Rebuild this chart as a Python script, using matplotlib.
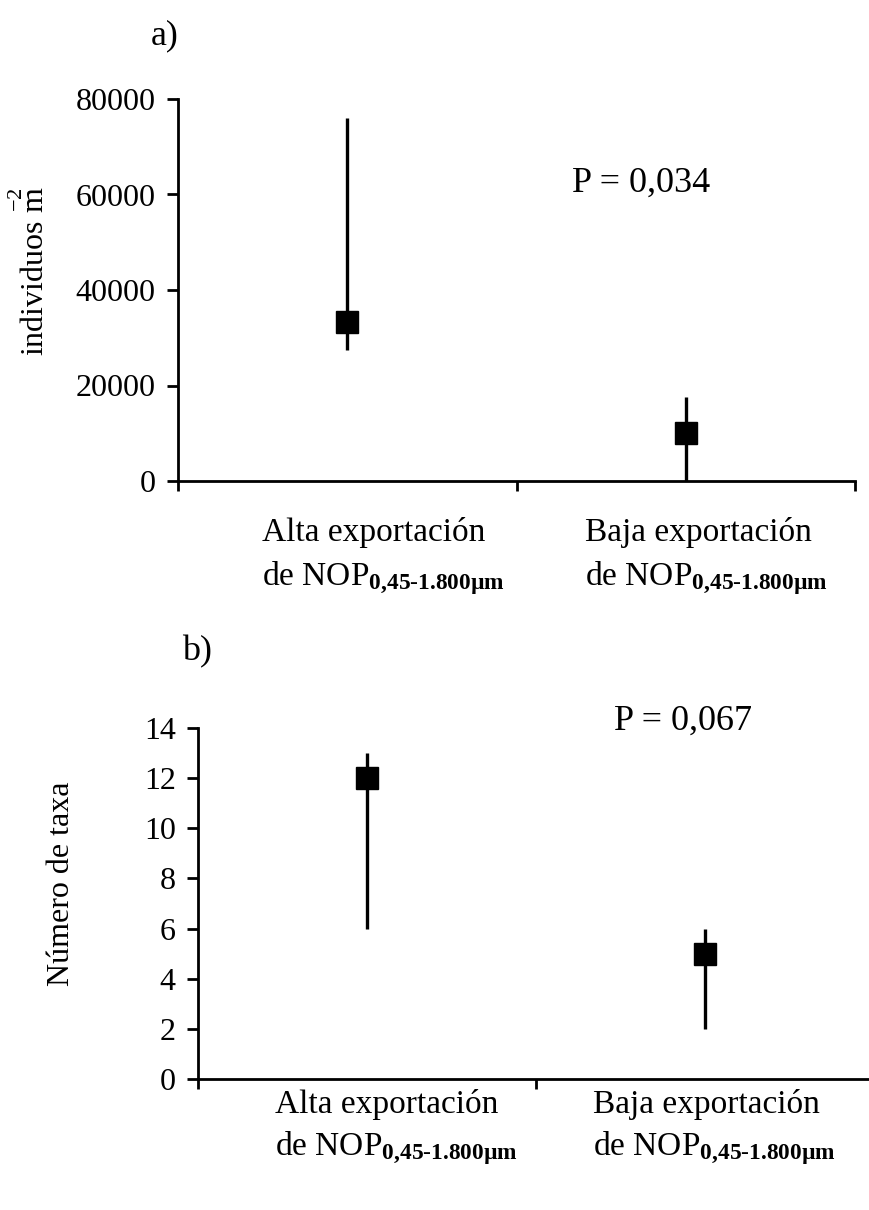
import matplotlib
matplotlib.use("Agg")
import matplotlib.pyplot as plt

plt.rcParams['font.family'] = ['Liberation Serif', 'DejaVu Serif']
plt.rcParams['mathtext.fontset'] = 'custom'
plt.rcParams['mathtext.rm'] = 'Liberation Serif'
plt.rcParams['mathtext.it'] = 'Liberation Serif:italic'
plt.rcParams['mathtext.bf'] = 'Liberation Serif:bold'

# ---- data ----
categories = ["Alta exportación", "Baja exportación"]
ind_median = [33400, 10000]
ind_min = [27400, 0]
ind_max = [76000, 17600]
ind_ticks = [0, 20000, 40000, 60000, 80000]

taxa_median = [12, 5]
taxa_min = [6, 2]
taxa_max = [13, 6]
taxa_ticks = [0, 2, 4, 6, 8, 10, 12, 14]

p_a = "P = 0,034"
p_b = "P = 0,067"

W, H = 869, 1210
fig = plt.figure(figsize=(W / 100, H / 100), dpi=100)

def px_rect(x0, x1, ytop, ybot):
    return [x0 / W, 1 - ybot / H, (x1 - x0) / W, (ybot - ytop) / H]

ax1 = fig.add_axes(px_rect(178, 855, 99, 481))
ax2 = fig.add_axes(px_rect(198, 874, 728, 1079))

TICK_FS = 23
LAB_FS = 23
CAT_FS = 24
P_FS = 26

def style(ax, ticks, ymax):
    ax.set_xlim(-0.5, 1.5)
    ax.set_ylim(0, ymax)
    ax.set_yticks(ticks)
    ax.set_yticklabels([str(t) for t in ticks])
    ax.set_xticks([-0.5, 0.5, 1.5])
    ax.set_xticklabels([])
    for s in ['top', 'right']:
        ax.spines[s].set_visible(False)
    for s in ['left', 'bottom']:
        ax.spines[s].set_linewidth(2.0)
        ax.spines[s].set_color('black')
    ax.tick_params(axis='y', direction='out', length=8, width=2, pad=8, labelsize=TICK_FS)
    ax.tick_params(axis='x', direction='out', length=7, width=2)

def draw(ax, med, lo, hi):
    xs = list(range(len(med)))
    ax.vlines(xs, lo, hi, colors='black', linewidth=2.4, clip_on=False, zorder=3)
    ax.plot(xs, med, linestyle='none', marker='s', markersize=16,
            color='black', clip_on=False, zorder=4)

style(ax1, ind_ticks, 80000)
draw(ax1, ind_median, ind_min, ind_max)
ax1.set_ylabel(r"individuos $\overset{-2}{\mathrm{m}}$", fontsize=LAB_FS)
ax1.yaxis.set_label_coords(-0.187, 0.55)
ax1.text(0.868, 62400, p_a, fontsize=P_FS, ha='center', va='center')

style(ax2, taxa_ticks, 14)
draw(ax2, taxa_median, taxa_min, taxa_max)
ax2.set_ylabel("Número de taxa", fontsize=LAB_FS)
ax2.yaxis.set_label_coords(-0.181, 0.556)
ax2.text(0.934, 14.25, p_b, fontsize=P_FS, ha='center', va='center', clip_on=False)

fig.text(165 / W, 1 - 36 / H, "a)", fontsize=26, ha='center', va='center')
fig.text(197 / W, 1 - 652 / H, "b)", fontsize=26, ha='center', va='center')

sub = r"de NOP$_{\mathbf{0{,}45}\text{-}\mathbf{1.800µm}}$"

def cat_labels(xs, y1, y2):
    for x, cat in zip(xs, categories):
        fig.text(x / W, 1 - y1 / H, cat, fontsize=CAT_FS, ha='left', va='center')
        fig.text(x / W, 1 - y2 / H, sub, fontsize=CAT_FS, ha='left', va='center')

cat_labels([262, 585], 533, 578)
cat_labels([275, 593], 1104, 1148)

fig.savefig("out.png", dpi=100)
